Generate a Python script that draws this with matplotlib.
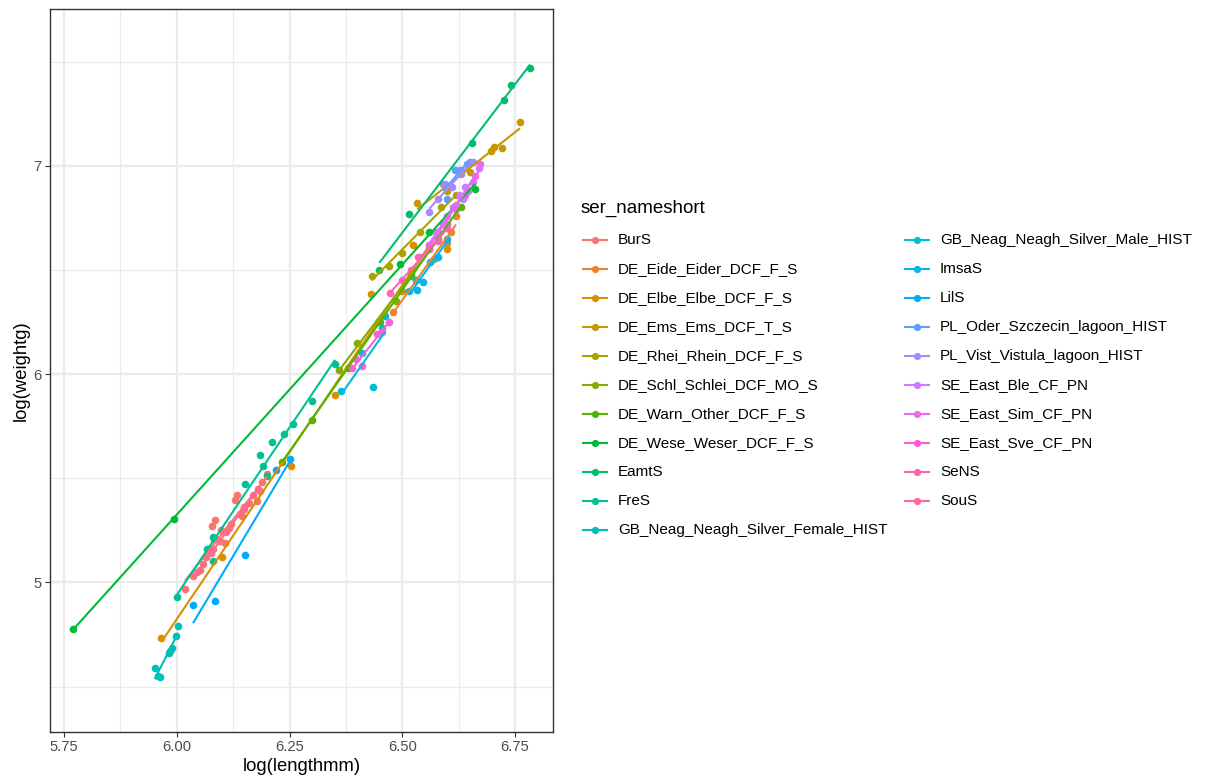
import numpy as np
import matplotlib
matplotlib.use("Agg")
import matplotlib.pyplot as plt
from matplotlib.lines import Line2D

plt.rcParams['font.family'] = ['Liberation Sans', 'DejaVu Sans']

names = ["BurS", "DE_Eide_Eider_DCF_F_S", "DE_Elbe_Elbe_DCF_F_S", "DE_Ems_Ems_DCF_T_S",
         "DE_Rhei_Rhein_DCF_F_S", "DE_Schl_Schlei_DCF_MO_S", "DE_Warn_Other_DCF_F_S",
         "DE_Wese_Weser_DCF_F_S", "EamtS", "FreS", "GB_Neag_Neagh_Silver_Female_HIST",
         "GB_Neag_Neagh_Silver_Male_HIST", "ImsaS", "LilS", "PL_Oder_Szczecin_lagoon_HIST",
         "PL_Vist_Vistula_lagoon_HIST", "SE_East_Ble_CF_PN", "SE_East_Sim_CF_PN",
         "SE_East_Sve_CF_PN", "SeNS", "SouS"]

burs_x = [6.018, 6.036, 6.051, 6.058, 6.077, 6.081, 6.084, 6.088, 6.099, 6.106, 6.121, 6.129, 6.134,
          6.144, 6.150, 6.160, 6.170, 6.177, 6.184, 6.190, 6.065, 6.095, 6.115, 6.140, 6.200]
burs_y = [4.97, 5.03, 5.06, 5.09, 5.27, 5.16, 5.30, 5.21, 5.25, 5.19, 5.28, 5.395, 5.42,
          5.32, 5.35, 5.38, 5.42, 5.39, 5.44, 5.48, 5.12, 5.20, 5.26, 5.33, 5.52]
eide_x = [6.479, 6.53, 6.57, 6.60, 6.609, 6.619]
eide_y = [6.30, 6.45, 6.55, 6.63, 6.68, 6.76]
elbe_x = [5.966, 6.10, 6.254, 6.35, 6.43, 6.50, 6.524, 6.60]
elbe_y = [4.735, 5.12, 5.56, 5.90, 6.385, 6.40, 6.62, 6.60]
ems_x = [6.533, 6.60, 6.65, 6.696, 6.703, 6.72, 6.761]
ems_y = [6.82, 6.88, 6.97, 7.07, 7.09, 7.085, 7.21]
rhei_x = [6.432, 6.47, 6.50, 6.54, 6.585, 6.62]
rhei_y = [6.47, 6.52, 6.58, 6.68, 6.80, 6.86]
schl_x = [6.36, 6.40, 6.487, 6.52, 6.56, 6.60]
schl_y = [6.02, 6.15, 6.35, 6.47, 6.60, 6.72]
warn_x = [6.234, 6.30, 6.38, 6.45, 6.52, 6.58, 6.63]
warn_y = [5.58, 5.78, 6.03, 6.25, 6.48, 6.65, 6.80]
wese_x = [5.770, 5.994, 6.495, 6.559, 6.661]
wese_y = [4.775, 5.302, 6.53, 6.68, 6.89]
eamt_x = [6.449, 6.515, 6.655, 6.726, 6.740, 6.783]
eamt_y = [6.50, 6.767, 7.107, 7.313, 7.389, 7.469]
fres_x = [6.000, 6.066, 6.070, 6.080, 6.082, 6.081, 6.151, 6.184, 6.191, 6.199, 6.210, 6.237,
          6.257, 6.300, 6.351]
fres_y = [4.93, 5.16, 5.16, 5.105, 5.21, 5.22, 5.47, 5.61, 5.56, 5.51, 5.675, 5.71,
          5.76, 5.87, 6.05]
gbf_x = [5.951, 5.959, 5.962, 5.983, 5.986, 5.990, 5.998, 6.003]
gbf_y = [4.59, 4.553, 4.547, 4.663, 4.67, 4.687, 4.743, 4.79]
gbm_x = [6.365, 6.41, 6.436, 6.456, 6.462]
gbm_y = [5.92, 6.10, 5.94, 6.22, 6.28]
imsa_x = [6.515, 6.53, 6.533, 6.545, 6.561, 6.58, 6.598]
imsa_y = [6.40, 6.45, 6.405, 6.44, 6.54, 6.56, 6.65]
lil_x = [6.036, 6.084, 6.151, 6.221, 6.251]
lil_y = [4.89, 4.91, 5.13, 5.54, 5.59]
oder_x = [6.591, 6.600, 6.617, 6.628, 6.643, 6.650]
oder_y = [6.91, 6.84, 6.98, 6.98, 7.01, 7.02]
vist_x = [6.560, 6.580, 6.595, 6.610, 6.630, 6.657]
vist_y = [6.78, 6.84, 6.91, 6.90, 6.96, 7.02]
ble_x = [6.560, 6.575, 6.590, 6.600, 6.612, 6.620, 6.635, 6.646, 6.657, 6.669, 6.625, 6.640]
ble_y = [6.62, 6.68, 6.72, 6.76, 6.80, 6.81, 6.84, 6.88, 6.92, 6.99, 6.86, 6.90]
sim_x = [6.540, 6.560, 6.580, 6.600, 6.620, 6.640, 6.660, 6.672]
sim_y = [6.56, 6.62, 6.68, 6.72, 6.79, 6.86, 6.95, 7.01]
sve_x = [6.388, 6.397, 6.410, 6.443, 6.454, 6.470]
sve_y = [6.03, 6.07, 6.04, 6.19, 6.20, 6.25]
sens_x = [6.473, 6.500, 6.520, 6.535, 6.560, 6.580, 6.600]
sens_y = [6.39, 6.45, 6.50, 6.56, 6.60, 6.64, 6.70]
sous_x = [6.045, 6.075, 6.110, 6.150, 6.180]
sous_y = [5.05, 5.14, 5.24, 5.36, 5.45]

series_x = [burs_x, eide_x, elbe_x, ems_x, rhei_x, schl_x, warn_x, wese_x, eamt_x, fres_x,
            gbf_x, gbm_x, imsa_x, lil_x, oder_x, vist_x, ble_x, sim_x, sve_x, sens_x, sous_x]
series_y = [burs_y, eide_y, elbe_y, ems_y, rhei_y, schl_y, warn_y, wese_y, eamt_y, fres_y,
            gbf_y, gbm_y, imsa_y, lil_y, oder_y, vist_y, ble_y, sim_y, sve_y, sens_y, sous_y]


def hcl_to_rgb(h, c=100.0, l=65.0):
    hr = np.deg2rad(h)
    U = c * np.cos(hr)
    V = c * np.sin(hr)
    Xn, Yn, Zn = 95.047, 100.0, 108.883
    un = 4 * Xn / (Xn + 15 * Yn + 3 * Zn)
    vn = 9 * Yn / (Xn + 15 * Yn + 3 * Zn)
    Y = Yn * ((l + 16) / 116) ** 3 if l > 8 else Yn * l / 903.3
    u = U / (13 * l) + un
    v = V / (13 * l) + vn
    X = 9.0 * Y * u / (4 * v)
    Z = -X / 3 - 5 * Y + 3 * Y / v
    X, Y, Z = X / 100, Y / 100, Z / 100
    r = 3.240479 * X - 1.537150 * Y - 0.498535 * Z
    g = -0.969256 * X + 1.875992 * Y + 0.041556 * Z
    b = 0.055648 * X - 0.204043 * Y + 1.057311 * Z

    def gam(t):
        t = 12.92 * t if t <= 0.0031308 else 1.055 * t ** (1 / 2.4) - 0.055
        return min(max(t, 0.0), 1.0)
    return (gam(r), gam(g), gam(b))


n = len(names)
hues = np.linspace(15, 375, n + 1)[:n]
colors = [hcl_to_rgb(h) for h in hues]

W, H = 1206, 783
fig = plt.figure(figsize=(W / 100, H / 100), dpi=100)
px_l, px_r, px_t, px_b = 50, 553, 9, 732
ax = fig.add_axes([px_l / W, 1 - px_b / H, (px_r - px_l) / W, (px_b - px_t) / H])
ax.set_xlim(5.719, 6.834)
ax.set_ylim(4.282, 7.752)

grid_c = '#EBEBEB'
ax.set_xticks([5.75, 6.00, 6.25, 6.50, 6.75])
ax.set_xticks([5.875, 6.125, 6.375, 6.625], minor=True)
ax.set_yticks([5, 6, 7])
ax.set_yticks([4.5, 5.5, 6.5, 7.5], minor=True)
ax.set_xticklabels(['5.75', '6.00', '6.25', '6.50', '6.75'])
ax.grid(True, which='major', color=grid_c, lw=1.6)
ax.grid(True, which='minor', color=grid_c, lw=0.8)
ax.set_axisbelow(True)
ax.tick_params(which='minor', length=0)
ax.tick_params(which='major', length=3.3, width=0.8, color='#333333',
               labelsize=10.6, labelcolor='#4D4D4D', pad=2.5)
for s in ax.spines.values():
    s.set_color('#333333')
    s.set_linewidth(1.0)

for xs, ys, c in zip(series_x, series_y, colors):
    ax.scatter(xs, ys, s=30, color=c, linewidths=0, zorder=3)
for xs, ys, c in zip(series_x, series_y, colors):
    xa = np.array(xs)
    ya = np.array(ys)
    k, b0 = np.polyfit(xa, ya, 1)
    xl = np.array([xa.min(), xa.max()])
    ax.plot(xl, k * xl + b0, color=c, lw=1.5, zorder=4, solid_capstyle='butt')

ax.set_xlabel('log(lengthmm)', fontsize=13.3, color='black', labelpad=3)
ax.set_ylabel('log(weightg)', fontsize=13.3, color='black', labelpad=3)


def fx(x):
    return x / W


def fy(y):
    return 1 - y / H


fig.text(fx(581), fy(208), 'ser_nameshort', fontsize=13.5, va='center', ha='left')
col_key = [(583, 607, 618), (905, 929, 940)]
for i, (nm, c) in enumerate(zip(names, colors)):
    col = 0 if i < 11 else 1
    row = i if i < 11 else i - 11
    k0, k1, tx = col_key[col]
    yy = 240 + 29 * row
    fig.add_artist(Line2D([fx(k0), fx(k1)], [fy(yy), fy(yy)], color=c, lw=1.5,
                          transform=fig.transFigure))
    fig.add_artist(Line2D([fx((k0 + k1) / 2)], [fy(yy)], color=c, marker='o', ms=5.2,
                          mew=0, transform=fig.transFigure))
    fig.text(fx(tx), fy(yy), nm, fontsize=11.0, va='center', ha='left')

fig.savefig('out.png', dpi=100)
